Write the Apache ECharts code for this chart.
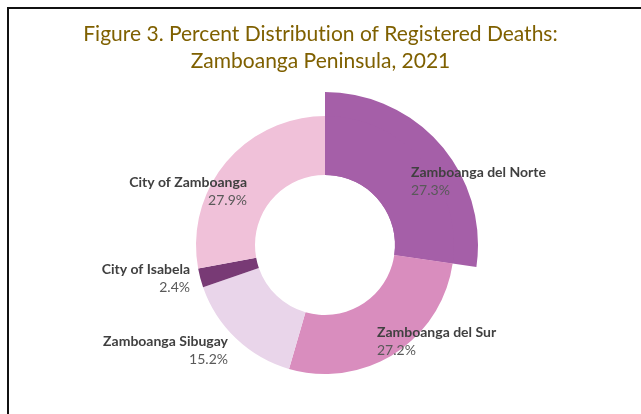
<!DOCTYPE html>
<html>
<head>
<meta charset="utf-8">
<script src="https://cdn.jsdelivr.net/npm/echarts@6/dist/echarts.min.js"></script>
<style>
  html, body { margin: 0; padding: 0; background: #fff; }
  #wrap { position: relative; width: 641px; height: 414px; overflow: hidden; }
  #chart { position: absolute; left: 0; top: 0; width: 641px; height: 414px; }
  #frame { position: absolute; left: 7px; top: 7px; width: 700px; height: 500px;
           border-left: 2px solid #111; border-top: 2px solid #111; pointer-events: none; }
</style>
</head>
<body>
<div id="wrap">
  <div id="chart"></div>
  <div id="frame"></div>
</div>
<script>
// data
var regions = ['Zamboanga del Norte', 'Zamboanga del Sur', 'Zamboanga Sibugay', 'City of Isabela', 'City of Zamboanga']
var shares = [27.3, 27.2, 15.2, 2.4, 27.9]
var highlighted = 'Zamboanga del Norte'

// styles
var colors = ['#A55FA8', '#D98DBE', '#E9D5EA', '#783A75', '#F0C1D9']
var cx = 325
var cy = 245
// label anchors relative to pie centre: [dx, dy, align]
var labelAnchors = [
  [86, -64, 'left'],
  [52, 96, 'left'],
  [-97, 105, 'right'],
  [-135, 33, 'right'],
  [-78, -54, 'right']
]

var font = 'Lato, "Open Sans", sans-serif'
var titleStyle = { fontFamily: font, fontSize: 21, lineHeight: 27, fontWeight: 'normal', color: '#7F6000' }

var ringData = regions.map((name, i) => ({
  name: name,
  value: shares[i],
  itemStyle: { color: colors[i] }
}))

var bigData = regions.map((name, i) => ({
  name: name,
  value: shares[i],
  itemStyle: { color: name === highlighted ? colors[i] : 'rgba(0,0,0,0)' }
}))

var chart = echarts.init(document.getElementById('chart'), null, { renderer: 'canvas' })

chart.setOption({
  animation: false,
  title: {
    // the "t" is its own rich token so Lato does not draw its "ti" ligature
    text: 'Figure 3. Percent Distribu{s|t}ion of Registered Deaths:\nZamboanga Peninsula, 2021',
    left: 'center',
    top: 16,
    textStyle: Object.assign({}, titleStyle, { rich: { s: titleStyle } })
  },
  series: [
    {
      type: 'pie',
      center: [cx, cy],
      radius: [70, 129],
      startAngle: 90,
      clockwise: true,
      avoidLabelOverlap: false,
      silent: true,
      data: ringData,
      label: {
        show: true,
        position: 'outside',
        formatter: '{n|{b}}\n{p|{c}%}',
        rich: {
          n: { fontFamily: font, fontSize: 14, fontWeight: 'bold', color: '#404040', lineHeight: 18 },
          p: { fontFamily: font, fontSize: 14, color: '#595959', lineHeight: 18 }
        }
      },
      labelLine: { show: false },
      labelLayout: function (params) {
        var a = labelAnchors[params.dataIndex]
        return { x: cx + a[0], y: cy + a[1], align: a[2], verticalAlign: 'middle' }
      }
    },
    {
      type: 'pie',
      center: [cx, cy],
      radius: [70, 153],
      startAngle: 90,
      clockwise: true,
      silent: true,
      data: bigData,
      label: { show: false },
      labelLine: { show: false },
      z: 1
    }
  ]
})
</script>
</body>
</html>
